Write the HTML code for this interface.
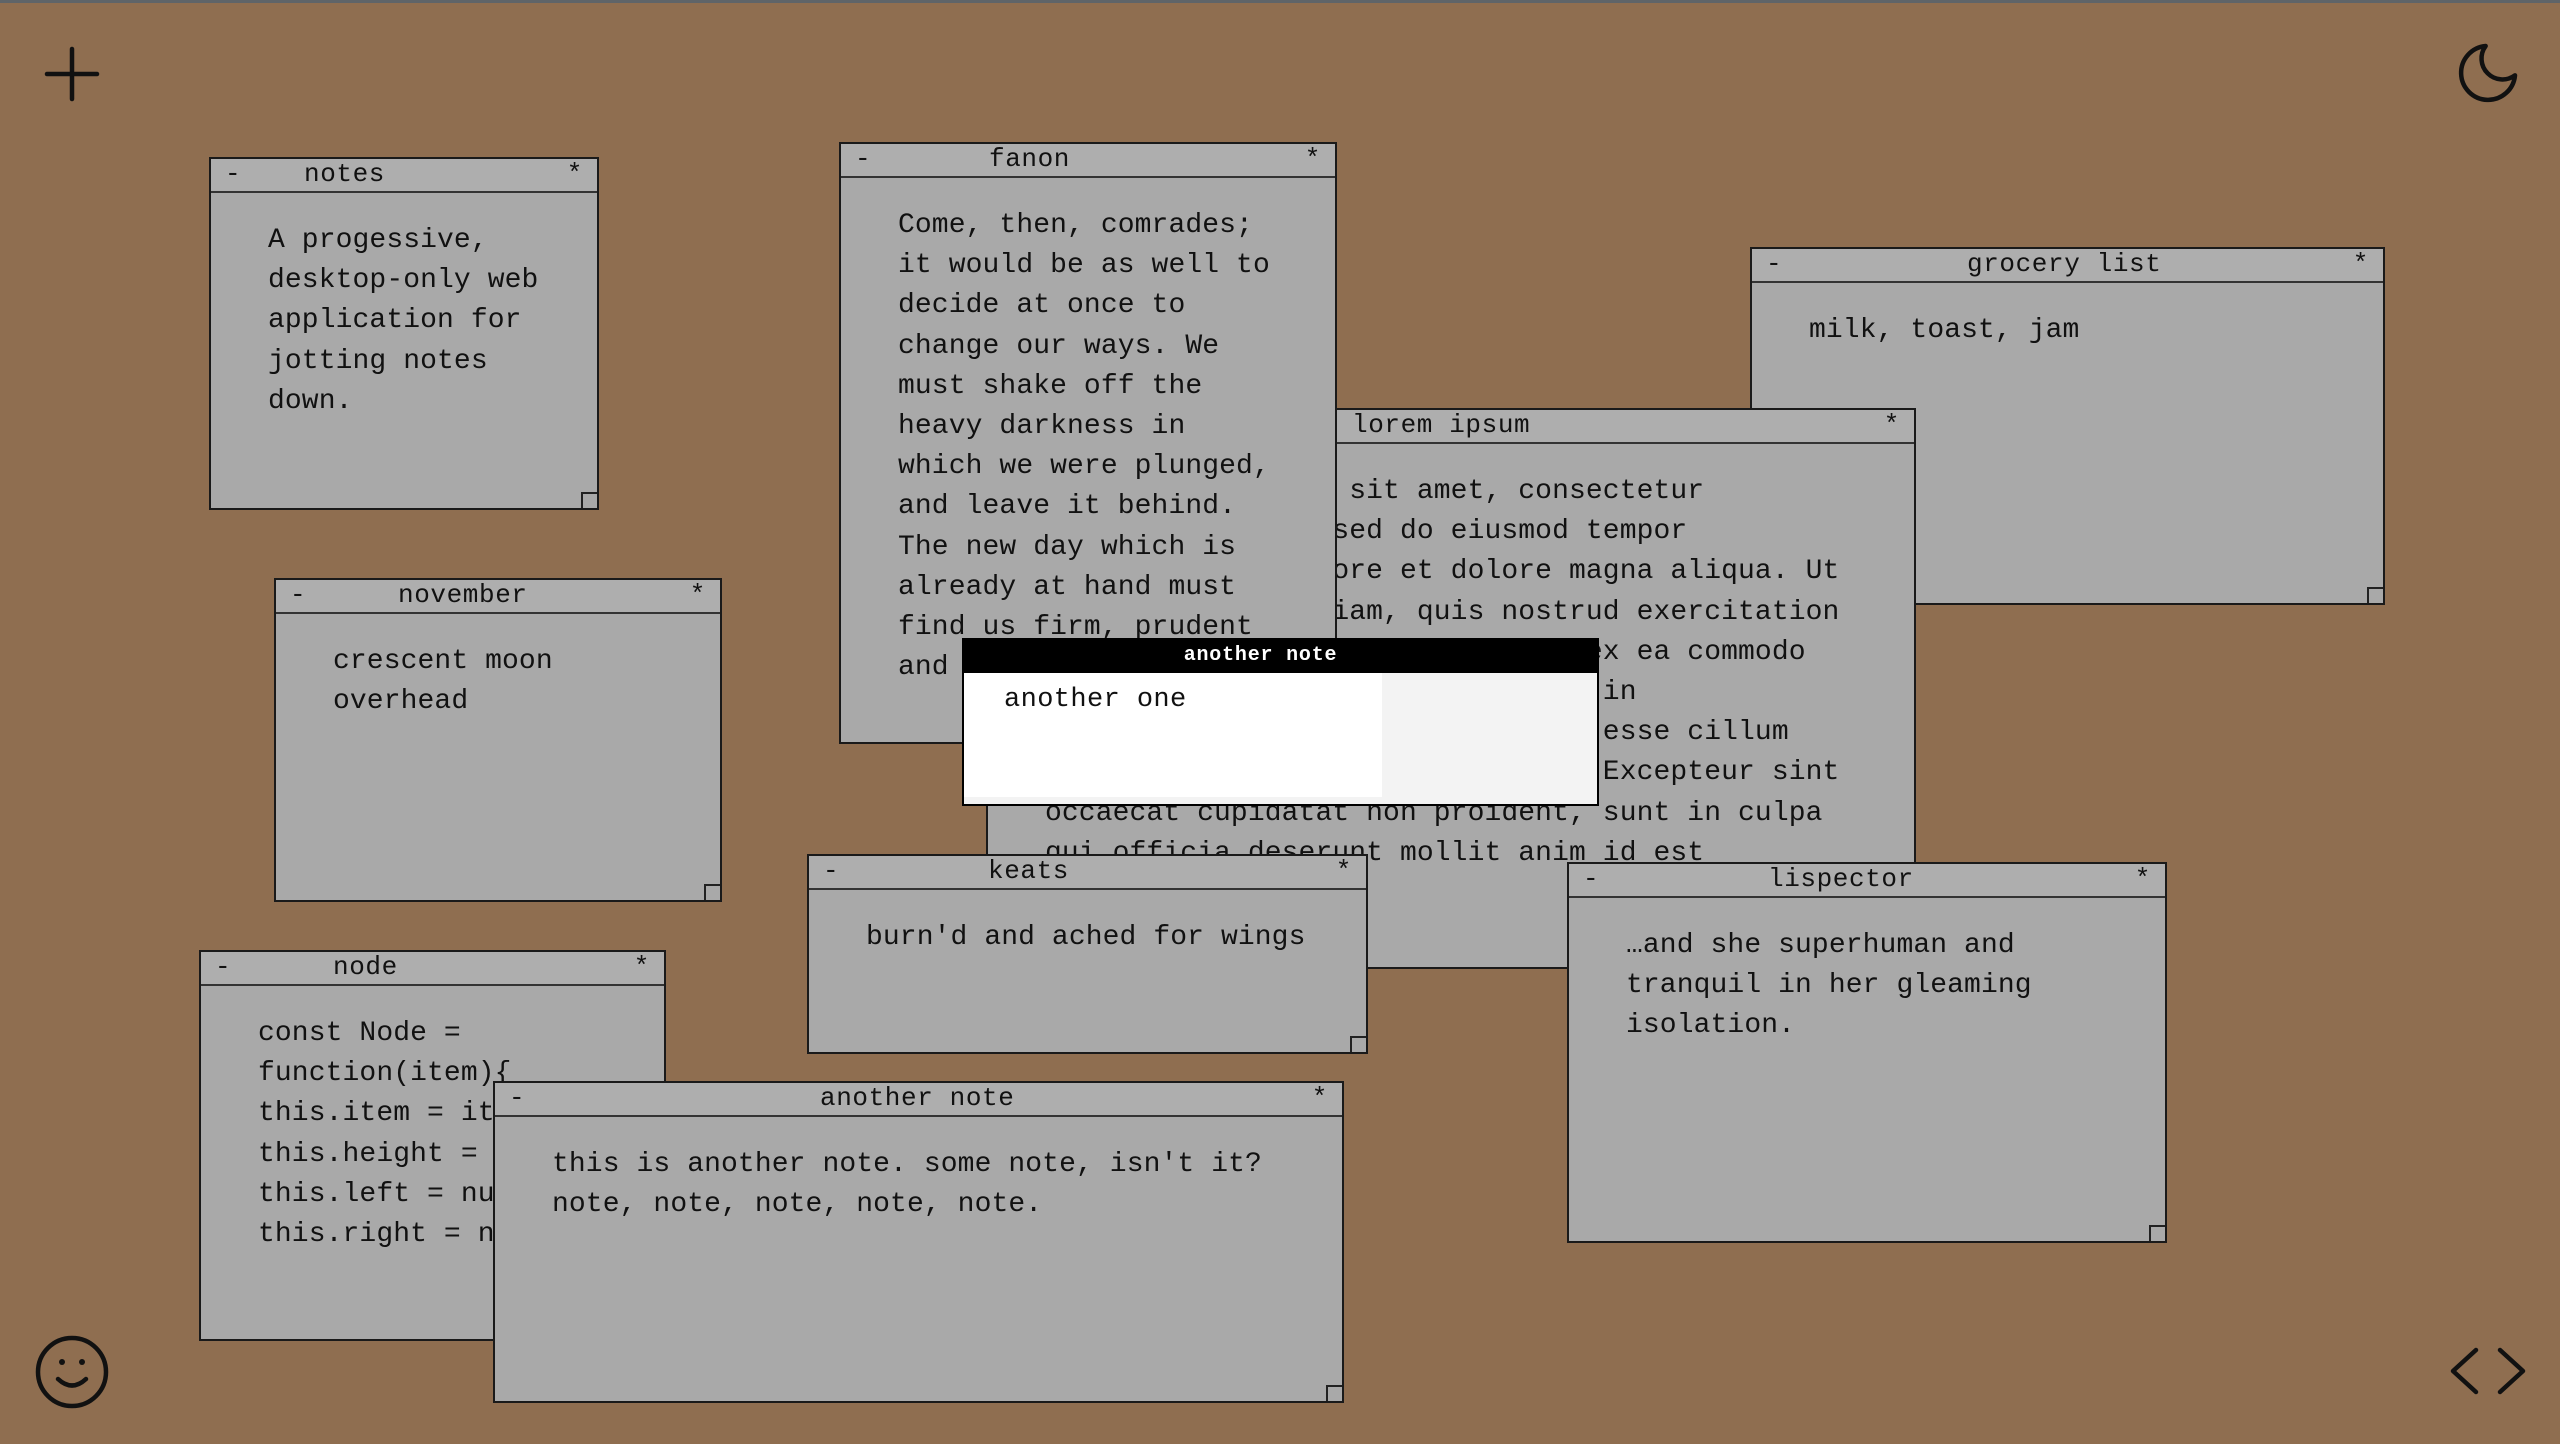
<!DOCTYPE html>
<html><head><meta charset="utf-8"><style>
*{box-sizing:border-box;margin:0;padding:0}
body{width:2560px;height:1444px;overflow:hidden;background:#8f6e50;position:relative;font-family:"Liberation Mono","Courier New",monospace;color:#111}
.w{position:absolute;border:2px solid #1a1a1a;background:#a9a9a9;overflow:hidden}
.t{position:absolute;left:0;right:0;top:0;height:34px;background:#aeaeae;border-bottom:2px solid #333;font-size:26px;line-height:31px;letter-spacing:0.6px}
.t .m{position:absolute;left:14px;top:0}
.t .s{position:absolute;right:14px;top:0}
.t .n{position:absolute;top:0;white-space:pre}
.b{position:absolute;left:57px;top:62px;font-size:28px;line-height:40.2px;white-space:pre;letter-spacing:0.1px}
.h{position:absolute;right:0;bottom:0;width:16px;height:16px;border-left:2px solid #222;border-top:2px solid #222}
</style></head><body>
<div style="position:absolute;left:0;top:0;width:2560px;height:3px;background:#5f6468"></div>

<div class="w" style="left:209px;top:157px;width:390px;height:353px"><div class="t"><span class="m">-</span><span class="n" style="left:93px">notes</span><span class="s">*</span></div><div class="b">A progessive,
desktop-only web
application for
jotting notes
down.</div><div class="h"></div></div>

<div class="w" style="left:274px;top:578px;width:448px;height:324px"><div class="t"><span class="m">-</span><span class="n" style="left:122px">november</span><span class="s">*</span></div><div class="b">crescent moon
overhead</div><div class="h"></div></div>

<div class="w" style="left:199px;top:950px;width:467px;height:391px"><div class="t"><span class="m">-</span><span class="n" style="left:132px">node</span><span class="s">*</span></div><div class="b">const Node =
function(item){
this.item = item;
this.height = 1;
this.left = null;
this.right = null;</div></div>

<div class="w" style="left:1750px;top:247px;width:635px;height:358px"><div class="t"><span class="m">-</span><span class="n" style="left:215px">grocery list</span><span class="s">*</span></div><div class="b">milk, toast, jam</div><div class="h"></div></div>

<div class="w" style="left:986px;top:408px;width:930px;height:561px"><div class="t"><span class="m">-</span><span class="n" style="left:364px">lorem ipsum</span><span class="s">*</span></div><div class="b" style="left:57px">Lorem ipsum dolor sit amet, consectetur
adipiscing elit, sed do eiusmod tempor
incididunt ut labore et dolore magna aliqua. Ut
enim ad minim veniam, quis nostrud exercitation
ullamco laboris nisi ut aliquip ex ea commodo
consequat. Duis aute irure dolor in
reprehenderit in voluptate velit esse cillum
dolore eu fugiat nulla pariatur. Excepteur sint
occaecat cupidatat non proident, sunt in culpa
qui officia deserunt mollit anim id est
laborum.</div><div class="h"></div></div>

<div class="w" style="left:839px;top:142px;width:498px;height:602px"><div class="t"><span class="m">-</span><span class="n" style="left:148px">fanon</span><span class="s">*</span></div><div class="b">Come, then, comrades;
it would be as well to
decide at once to
change our ways. We
must shake off the
heavy darkness in
which we were plunged,
and leave it behind.
The new day which is
already at hand must
find us firm, prudent
and resolute.</div></div>

<div class="w" style="left:807px;top:854px;width:561px;height:200px"><div class="t"><span class="m">-</span><span class="n" style="left:179px">keats</span><span class="s">*</span></div><div class="b">burn'd and ached for wings</div><div class="h"></div></div>

<div class="w" style="left:1567px;top:862px;width:600px;height:381px"><div class="t"><span class="m">-</span><span class="n" style="left:199px">lispector</span><span class="s">*</span></div><div class="b">…and she superhuman and
tranquil in her gleaming
isolation.</div><div class="h"></div></div>

<div class="w" style="left:493px;top:1081px;width:851px;height:322px"><div class="t"><span class="m">-</span><span class="n" style="left:325px">another note</span><span class="s">*</span></div><div class="b">this is another note. some note, isn't it?
note, note, note, note, note.</div><div class="h"></div></div>

<div style="position:absolute;left:962px;top:638px;width:637px;height:168px;border:2px solid #000;background:#f3f3f3">
<div style="position:absolute;left:0;right:0;top:0;height:33px;background:#000;color:#fff;font-weight:bold;font-size:20px;line-height:31px;text-align:center;letter-spacing:0.8px;padding-right:40px">another note</div>
<div style="position:absolute;left:0;top:33px;width:418px;height:124px;background:#fff"></div>
<div style="position:absolute;left:40px;top:42px;font-size:27px;line-height:36px;white-space:pre;letter-spacing:0.4px">another one</div>
</div>

<svg style="position:absolute;left:0;top:0" width="2560" height="1444">
<g stroke="#111" stroke-width="4.5" fill="none" stroke-linecap="round" stroke-linejoin="round">
<line x1="72" y1="49" x2="72" y2="99"/><line x1="47" y1="74" x2="97" y2="74"/>
<polyline points="2476,1350 2453,1371 2476,1392"/><polyline points="2500,1350 2523,1371 2500,1392"/>
<circle cx="72" cy="1372" r="34"/>
<path d="M58 1379 Q72 1392 86 1379"/>
<path transform="translate(2452,37) scale(3)" stroke-width="1.5" d="M21 12.79A9 9 0 1 1 11.21 3 7 7 0 0 0 21 12.79z"/>
</g>
<circle cx="62" cy="1362" r="3" fill="#111"/><circle cx="82" cy="1362" r="3" fill="#111"/>
</svg>
</body></html>
